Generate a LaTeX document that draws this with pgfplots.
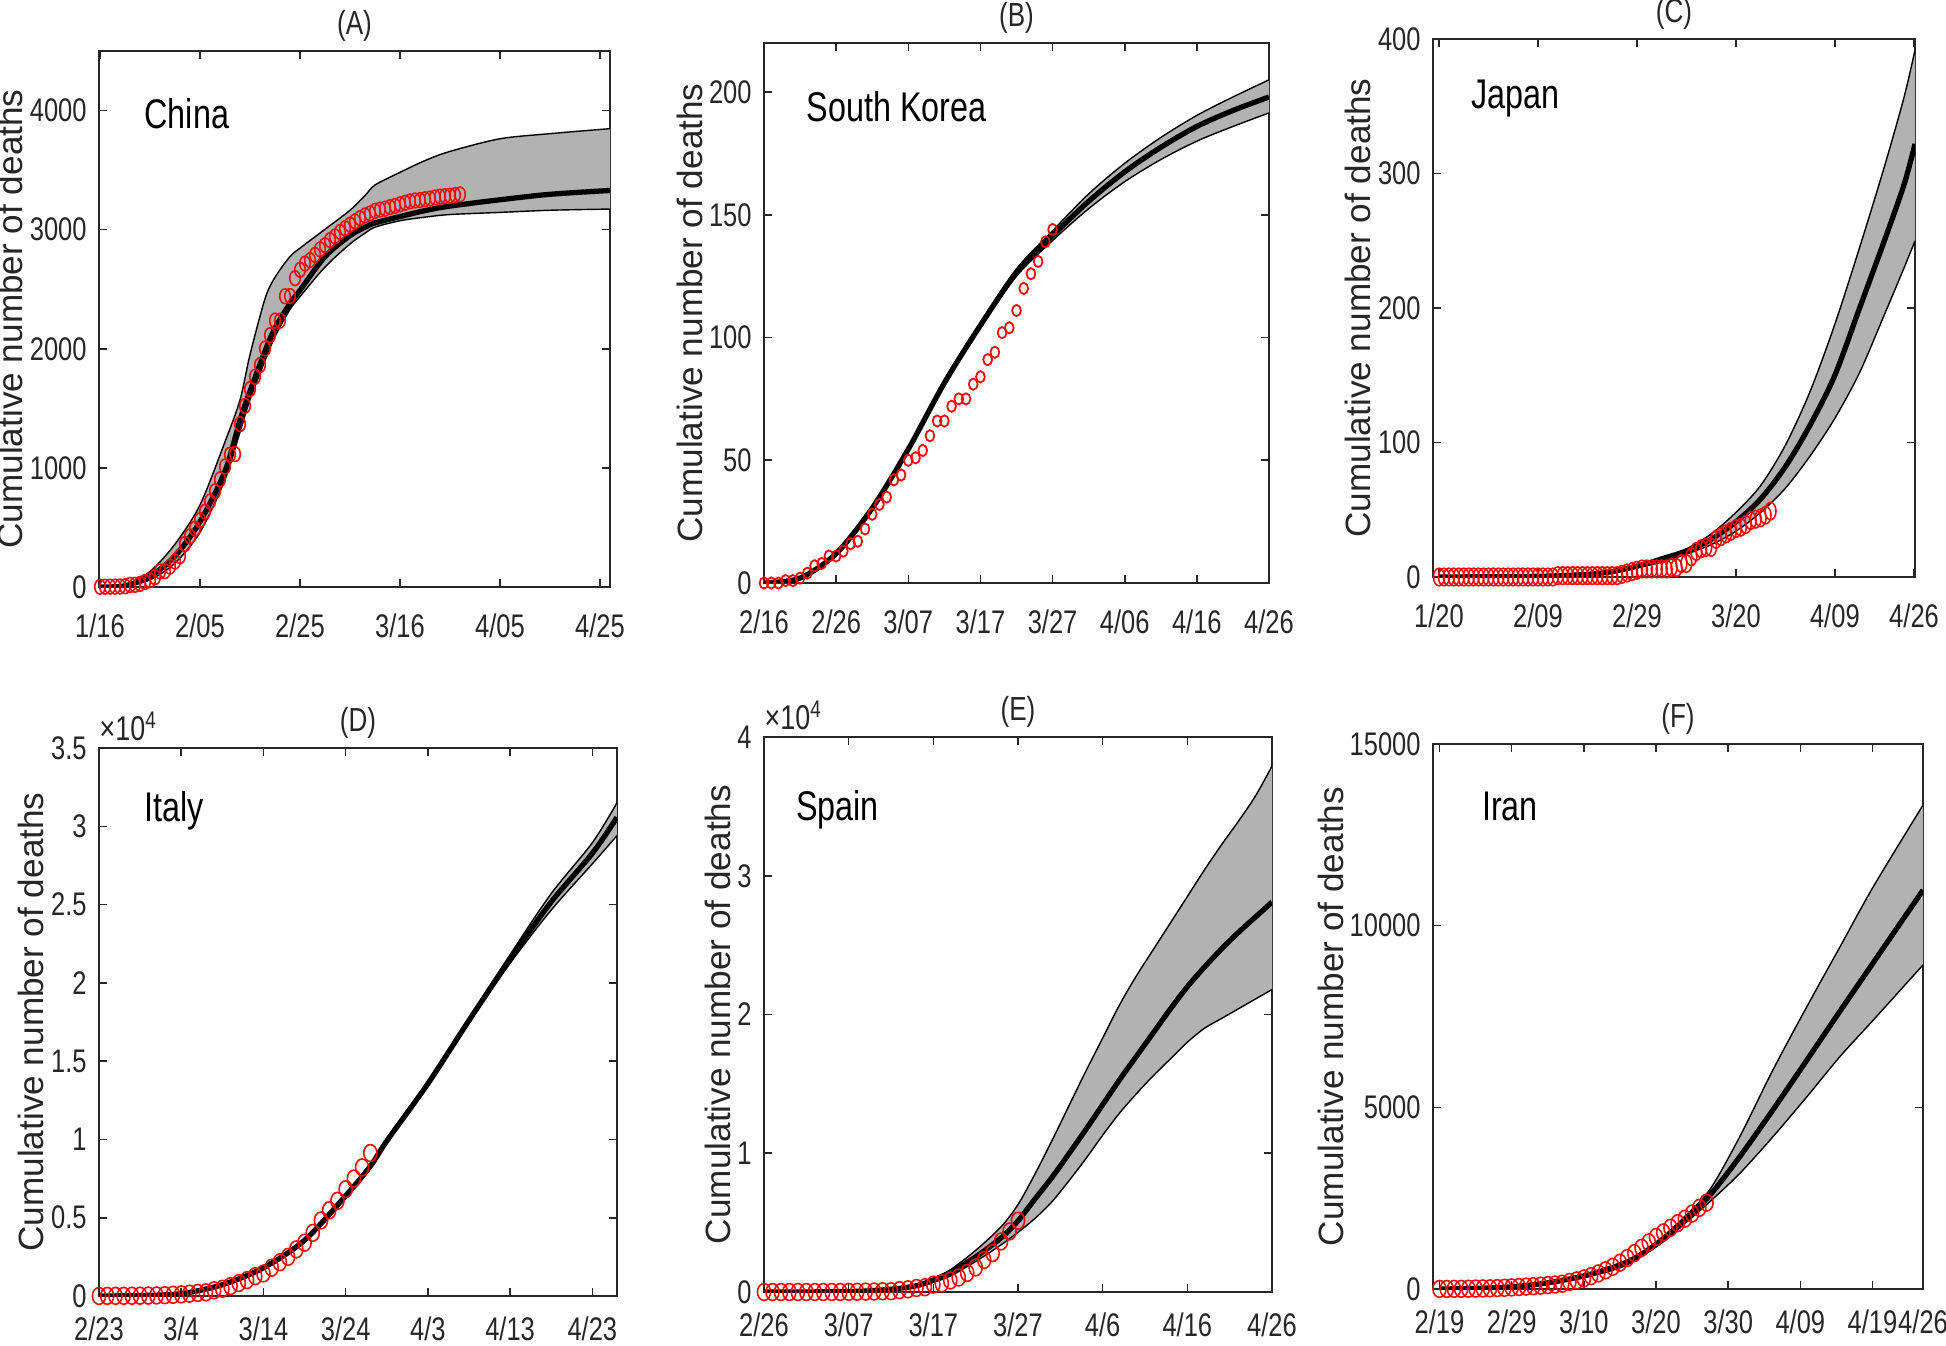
\documentclass[border=0pt]{standalone}
\usepackage{fontspec}
\setmainfont{Liberation Sans}
\newfontfamily\narrowfont[FakeStretch=0.78]{Liberation Sans}
\usepackage{pgfplots}
\usepackage{pgfplotstable}
\pgfplotsset{compat=1.18}
\usepgfplotslibrary{fillbetween}

% ---------------- model bands: day, lower, mean, upper ----------------
\pgfplotstableread{
d lo mu up
0 0 0 0
5 5 10 20
10 60 90 130
15 200 260 360
20 459 548 689
25 901 972 1219
28 1300 1400 1570
30 1572 1643 1950
33 1900 1980 2420
35 2102 2173 2600
38 2330 2380 2774
40 2438 2491 2845
45 2686 2774 3003
50 2880 2950 3163
53 2970 3020 3286
55 3021 3057 3375
60 3075 3110 3481
65 3105 3160 3580
70 3127 3198 3657
80 3145 3251 3763
90 3163 3297 3806
102 3173 3329 3848
}\bandA
\pgfplotstableread{
d lo mu up
0 0 0 0
5 1.8 2 2.3
10 11 12 13
15 29.5 30.5 31.5
20 53.5 54.5 55.5
25 80.5 81.5 82.5
30 104 105 106
35 125 126.5 128
40 139.5 141.5 143.5
45 152.5 155.5 158.5
50 163.5 167.5 171
55 172.5 177.5 181.5
60 180 186 190.5
65 186 192.5 198
70 191.5 198 205
}\bandB
\pgfplotstableread{
d lo mu up
0 0 0 0
20 0 0.5 1
30 1.5 2 2.5
35 3.5 4 4.5
40 7 8 9
45 11 13 15
50 17 19 21
55 24 28 32
60 34 41 48
65 48 58 68
70 66 82 98
75 90 113 138
80 118 150 188
85 152 200 245
90 195 250 305
94 230 292 357
96.2 250 322 392
}\bandC
\pgfplotstableread{
d lo mu up
0 0 0 0
5 20 30 40
10 100 150 200
15 650 720 800
20 1700 1800 1900
25 3450 3560 3680
30 6300 6400 6500
33 8200 8290 8380
35 9800 9900 10000
40 13450 13560 13680
45 17450 17600 17750
50 21250 21520 21800
55 24650 25170 25700
60 27600 28270 28950
63 29400 30570 31500
}\bandD
\pgfplotstableread{
d lo mu up
0 0 0 0
10 20 30 40
15 150 200 260
18 350 450 550
20 700 855 1000
22 1150 1400 1600
25 2200 2530 3000
28 3400 3900 4700
30 4300 5130 6300
32 5300 6700 8500
34 6500 8250 10900
36 8000 9950 13400
38 9600 11700 15900
40 11300 13500 18300
42 12900 15300 20700
44 14300 17000 22800
46 15600 18700 24700
48 16800 20400 26600
50 18000 22000 28500
52 19000 23400 30400
54 19700 24700 32200
56 20400 25900 33900
58 21100 27000 35700
60 21800 28100 37900
}\bandE
\pgfplotstableread{
d lo mu up
0 0 0 0
5 12 15 18
10 50 60 70
15 150 170 190
20 320 360 400
25 580 650 720
28 900 960 1000
31 1300 1380 1450
34 1800 1900 2000
37.5 2410 2590 2750
41.6 3180 3640 4190
46.2 4190 4930 6030
50.9 5290 6300 7770
55.5 6400 7650 9420
60.1 7400 8980 11070
67 8920 10980 13320
}\bandF

% ---------------- observed data: day, deaths ----------------
\pgfplotstableread{
d v
0 2
1 2
2 3
3 3
4 4
5 6
6 17
7 18
8 26
9 42
10 56
11 82
12 131
13 133
14 171
15 213
16 259
17 361
18 425
19 490
20 562
21 632
22 717
23 804
24 904
25 1011
26 1111
27 1116
28 1368
29 1520
30 1662
31 1765
32 1863
33 2002
34 2114
35 2236
36 2236
37 2441
38 2443
39 2593
40 2663
41 2715
42 2744
43 2788
44 2835
45 2870
46 2912
47 2943
48 2981
49 3012
50 3042
51 3070
52 3097
53 3119
54 3136
55 3158
56 3169
57 3176
58 3189
59 3199
60 3213
61 3226
62 3237
63 3245
64 3248
65 3255
66 3261
67 3270
68 3277
69 3281
70 3285
71 3291
72 3296
}\obsA
\pgfplotstableread{
d v
0 0
1 0
2 0
3 1
4 1
5 2
6 4
7 7
8 8
9 11
10 11
11 13
12 16
13 17
14 22
15 28
16 32
17 35
18 42
19 44
20 50
21 51
22 54
23 60
24 66
25 66
26 72
27 75
28 75
29 81
30 84
31 91
32 94
33 102
34 104
35 111
36 120
37 126
38 131
39 139
40 144
}\obsB
\pgfplotstableread{
d v
0 0
1 0
2 0
3 0
4 0
5 0
6 0
7 0
8 0
9 0
10 0
11 0
12 0
13 0
14 0
15 0
16 0
17 0
18 0
19 0
20 0
21 0
22 0
23 0
24 1
25 1
26 1
27 1
28 1
29 1
30 1
31 1
32 1
33 1
34 1
35 1
36 1
37 2
38 3
39 4
40 5
41 6
42 6
43 6
44 6
45 6
46 6
47 7
48 7
49 10
50 10
51 15
52 19
53 21
54 22
55 22
56 28
57 30
58 32
59 34
60 36
61 37
62 39
63 42
64 43
65 44
66 46
67 49
}\obsC
\pgfplotstableread{
d v
0 3
1 7
2 10
3 12
4 17
5 21
6 29
7 34
8 52
9 79
10 107
11 148
12 197
13 233
14 366
15 463
16 631
17 827
18 1016
19 1266
20 1441
21 1809
22 2158
23 2503
24 2978
25 3405
26 4032
27 4825
28 5476
29 6077
30 6820
31 7503
32 8215
33 9134
}\obsD
\pgfplotstableread{
d v
0 0
1 0
2 0
3 0
4 0
5 0
6 1
7 2
8 3
9 5
10 10
11 17
12 28
13 35
14 54
15 55
16 133
17 195
18 289
19 342
20 533
21 623
22 830
23 1043
24 1375
25 1772
26 2311
27 2808
28 3647
29 4365
30 5138
}\obsE
\pgfplotstableread{
d v
0 2
1 2
2 4
3 5
4 8
5 12
6 16
7 19
8 26
9 34
10 43
11 54
12 66
13 77
14 92
15 107
16 124
17 145
18 194
19 237
20 291
21 354
22 429
23 514
24 611
25 724
26 853
27 988
28 1135
29 1284
30 1433
31 1556
32 1685
33 1812
34 1934
35 2077
36 2234
37 2378
}\obsF

\pgfplotsset{
  every axis title/.style={at={(0.5,1)}, anchor=south, inner sep=0pt, yshift=0.9mm,
      font=\narrowfont\fontsize{9.5}{11}\selectfont, text=black!85},
  panel/.style={
    scale only axis,
    axis line style={draw=black!85, line width=0.45pt},
    every tick/.style={draw=black!85, line width=0.45pt},
    major tick length=0.8mm,
    tick align=inside,
    tick label style={font=\narrowfont\fontsize{9.3}{10}\selectfont, text=black!85},
    xticklabel style={yshift=-1.4mm},
    /pgf/number format/assume math mode=true,
    /pgf/number format/1000 sep={},
    scaled y ticks=false,
    ylabel={Cumulative number of deaths},
    ylabel style={font=\fontsize{10}{12}\selectfont, text=black!85, anchor=center},
    ymin=0,
  },
  bottomrow/.style={xticklabel style={yshift=0.6mm}},
  sci/.style={
    extra description/.code={%
      \node[anchor=south west, inner sep=0pt, yshift=0.6mm, text=black!85,
        font=\narrowfont\fontsize{9.8}{10}\selectfont]
        at (axis description cs:0,1) {×10\textsuperscript{4}};},
  },
  edge/.style={black, line width=0.4pt, smooth},
  meanline/.style={black, line width=1.5pt, smooth},
}
\newcommand{\country}[3]{\node[anchor=base west, font=\narrowfont\fontsize{11.8}{13}\selectfont]
  at (rel axis cs:#1,#2) {#3};}
\newcommand{\bandplots}[1]{%
  \addplot[draw=none, smooth, name path=up] table[x=d,y=up]{#1};
  \addplot[draw=none, smooth, name path=lo] table[x=d,y=lo]{#1};
  \addplot[fill=black!30, draw=none] fill between[of=up and lo];
  \addplot[edge] table[x=d,y=up]{#1};
  \addplot[edge] table[x=d,y=lo]{#1};
  \addplot[meanline] table[x=d,y=mu]{#1};
}

\begin{document}
\begin{tikzpicture}

% (A) China
\begin{axis}[panel, at={(9.9mm,75.8mm)}, anchor=south west, width=51.1mm, height=53.6mm,
  title={(A)}, xmin=-0.2, xmax=102, ymax=4500,
  xtick={0,20,40,60,80,100}, xticklabels={1/16,2/05,2/25,3/16,4/05,4/25},
  ytick={0,1000,2000,3000,4000},
  ylabel style={at={(axis description cs:-0.174,0.5)}}]
\bandplots{\bandA}
\addplot[only marks, mark=o, red, mark size=2.1pt, mark options={xscale=0.72, line width=0.45pt}] table[x=d,y=v]{\obsA};
\country{0.065}{0.856}{China}
\end{axis}

% (B) South Korea
\begin{axis}[panel, at={(76.4mm,76.2mm)}, anchor=south west, width=50.5mm, height=54.0mm,
  title={(B)}, xmin=0, xmax=70, ymax=220,
  xtick={0,10,...,70}, xticklabels={2/16,2/26,3/07,3/17,3/27,4/06,4/16,4/26},
  ytick={0,50,...,200},
  ylabel style={at={(axis description cs:-0.147,0.5)}}]
\bandplots{\bandB}
\addplot[only marks, mark=o, red, mark size=1.6pt, mark options={xscale=0.78, line width=0.5pt}] table[x=d,y=v]{\obsB};
\country{0.06}{0.854}{South Korea}
\end{axis}

% (C) Japan
\begin{axis}[panel, at={(143.3mm,76.8mm)}, anchor=south west, width=48.2mm, height=53.8mm,
  title={(C)}, xmin=-1.2, xmax=96.2, ymax=400,
  xtick={0,20,40,60,80,96}, xticklabels={1/20,2/09,2/29,3/20,4/09,4/26},
  ytick={0,100,...,400},
  ylabel style={at={(axis description cs:-0.156,0.5)}}]
\bandplots{\bandC}
\addplot[only marks, mark=o, red, mark size=2.5pt, mark options={xscale=0.62, line width=0.45pt}] table[x=d,y=v]{\obsC};
\country{0.054}{0.87}{Japan}
\end{axis}

% (D) Italy
\begin{axis}[panel, bottomrow, sci, at={(9.9mm,4.9mm)}, anchor=south west, width=51.8mm, height=54.8mm,
  title={(D)}, xmin=0, xmax=63, ymax=35000,
  xtick={0,10,...,60}, xticklabels={2/23,3/4,3/14,3/24,4/3,4/13,4/23},
  ytick={0,5000,10000,15000,20000,25000,30000,35000},
  yticklabels={0,0.5,1,1.5,2,2.5,3,3.5},
  ylabel style={at={(axis description cs:-0.131,0.5)}}]
\bandplots{\bandD}
\addplot[only marks, mark=o, red, mark size=2.4pt, mark options={xscale=0.78, line width=0.45pt}] table[x=d,y=v]{\obsD};
\country{0.064}{0.865}{Italy}
\end{axis}

% (E) Spain
\begin{axis}[panel, bottomrow, sci, at={(76.4mm,5.3mm)}, anchor=south west, width=50.8mm, height=55.5mm,
  title={(E)}, xmin=0, xmax=60, ymax=40000,
  xtick={0,10,...,60}, xticklabels={2/26,3/07,3/17,3/27,4/6,4/16,4/26},
  ytick={0,10000,20000,30000,40000},
  yticklabels={0,1,2,3,4},
  ylabel style={at={(axis description cs:-0.091,0.5)}}]
\bandplots{\bandE}
\addplot[only marks, mark=o, red, mark size=2.4pt, mark options={xscale=0.78, line width=0.45pt}] table[x=d,y=v]{\obsE};
\country{0.039}{0.85}{Spain}
\end{axis}

% (F) Iran
\begin{axis}[panel, bottomrow, at={(143.3mm,5.6mm)}, anchor=south west, width=49.0mm, height=54.5mm,
  title={(F)}, xmin=-0.9, xmax=67, ymax=15000,
  xtick={0,10,20,30,40,50,60,67}, xticklabels={2/19,2/29,3/10,3/20,3/30,4/09,4/19,4/26},
  ytick={0,5000,10000,15000},
  ylabel style={at={(axis description cs:-0.208,0.5)}}]
\bandplots{\bandF}
\addplot[only marks, mark=o, red, mark size=2.4pt, mark options={xscale=0.78, line width=0.45pt}] table[x=d,y=v]{\obsF};
\country{0.075}{0.86}{Iran}
\end{axis}

\pgfresetboundingbox
\path[use as bounding box] (0,0) rectangle (194.6mm,134.5mm);
\end{tikzpicture}
\end{document}
